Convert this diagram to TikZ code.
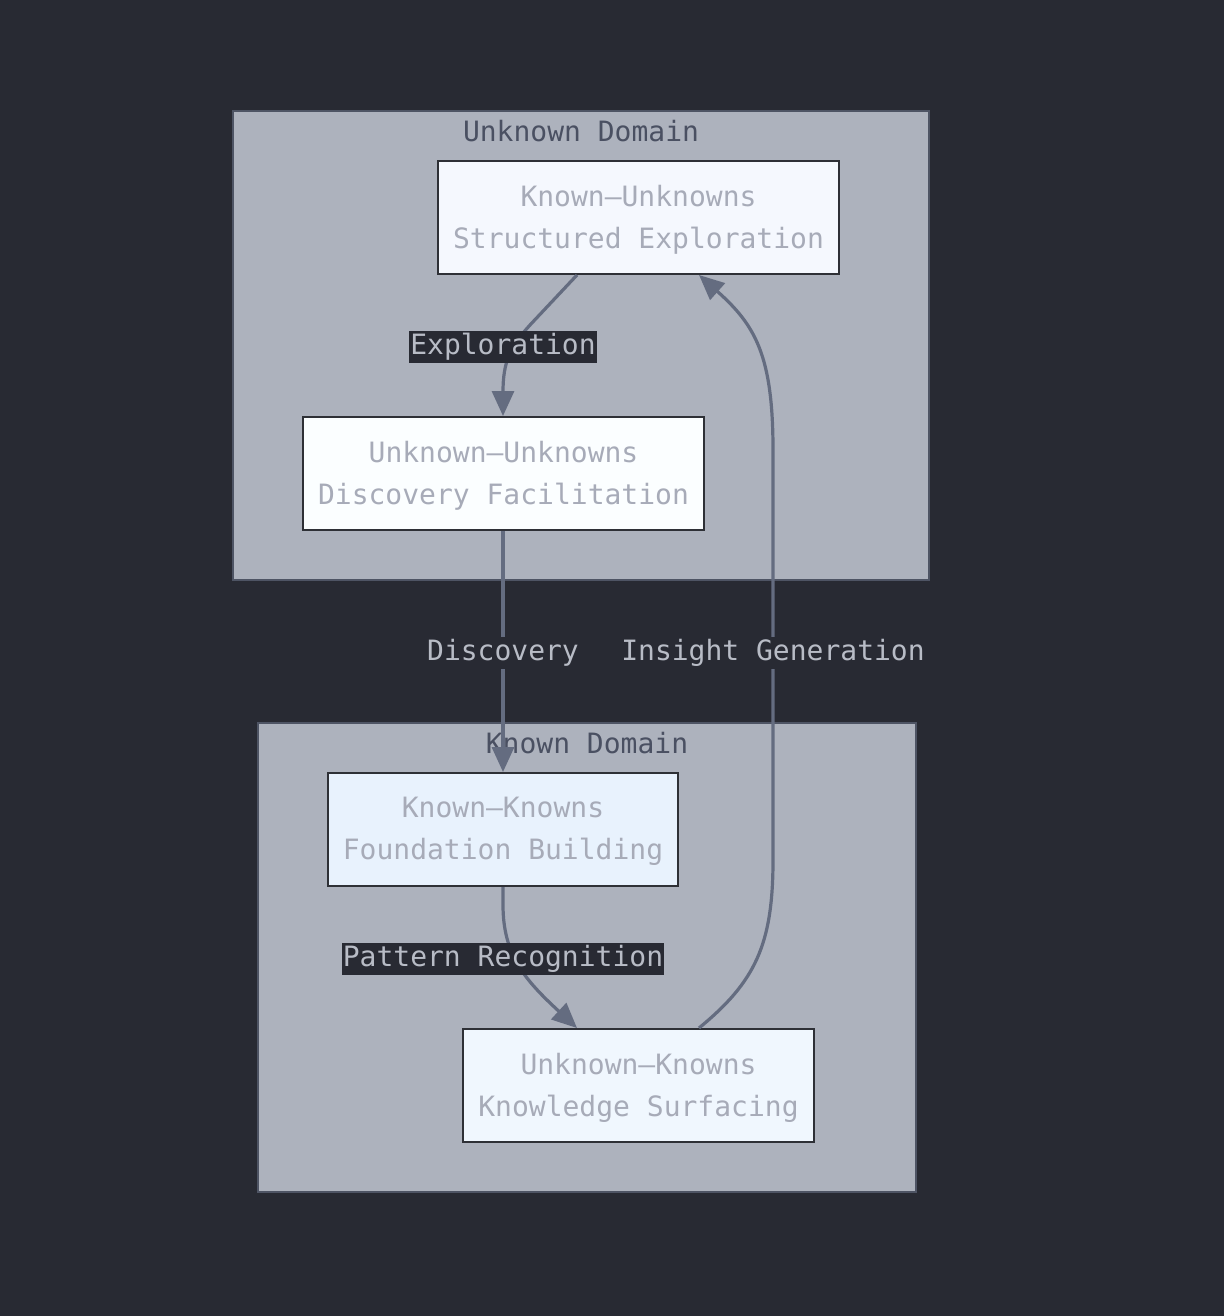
\documentclass[tikz,border=0pt]{standalone}
\usepackage{fontspec}
\setmonofont{DejaVu Sans Mono}
\usetikzlibrary{arrows.meta,calc}
\definecolor{bgc}{HTML}{282A33}
\definecolor{clusterfill}{HTML}{ADB2BD}
\definecolor{clusterline}{HTML}{4E5464}
\definecolor{clustertext}{HTML}{4A5062}
\definecolor{nodetext}{HTML}{A7ABB8}
\definecolor{nodeline}{HTML}{2E3036}
\definecolor{edgec}{HTML}{646C80}
\definecolor{labeltext}{HTML}{B8BCC6}
\definecolor{fillA}{HTML}{F5F8FE}
\definecolor{fillB}{HTML}{FBFEFF}
\definecolor{fillC}{HTML}{E8F2FD}
\definecolor{fillD}{HTML}{F0F7FE}
\newcommand{\dn}[1]{\raisebox{-2pt}[\height][\depth]{#1}}
\tikzset{
  txt/.style={font=\ttfamily\fontsize{28}{42}\selectfont},
  box/.style={txt, draw=nodeline, line width=2pt, text=nodetext, align=center,
    minimum height=113pt, inner sep=0pt},
  cluster/.style={fill=clusterfill, draw=clusterline, line width=2pt},
  clabel/.style={txt, text=clustertext, inner sep=0pt},
  edge/.style={draw=edgec, line width=3.2pt, -{Triangle[length=25pt,width=22pt]}},
  elabel/.style={txt, text=labeltext, fill=bgc, inner sep=1pt, minimum height=32pt}
}
\begin{document}
\begin{tikzpicture}[x=1pt,y=-1pt]
\fill[bgc] (0,0) rectangle (1224,1316);
\useasboundingbox (0,0) rectangle (1224,1316);
% clusters
\draw[cluster] (233,111) rectangle (929,580);
\node[clabel] (ulab) at (581,131) {Unknown Domain};
\draw[cluster] (258,723) rectangle (916,1192);
\node[clabel] (klab) at (587,743) {Known Domain};
% nodes
\node[box, fill=fillA, minimum width=401pt] (KU) at (638.5,217.5) {\dn{Known–Unknowns}\\\dn{Structured Exploration}};
\node[box, fill=fillB, minimum width=401pt] (UU) at (503.5,473.5) {\dn{Unknown–Unknowns}\\\dn{Discovery Facilitation}};
\node[box, fill=fillC, minimum width=350pt] (KK) at (503,829.5) {\dn{Known–Knowns}\\\dn{Foundation Building}};
\node[box, fill=fillD, minimum width=351pt] (UK) at (638.5,1085.5) {\dn{Unknown–Knowns}\\\dn{Knowledge Surfacing}};
% edges
\draw[edge] ([xshift=-61.5pt]KU.south) -- (530,325) .. controls (510,347) and (503,362) .. (503,392) -- ([xshift=-0.5pt]UU.north);
\draw[edge] ([xshift=-0.5pt]UU.south) -- (KK.north);
\draw[edge] (KK.south) -- (503,905) .. controls (503,955) and (525,980) .. ([xshift=-61.5pt]UK.north);
\draw[edge] ([xshift=60.5pt]UK.north) .. controls (755,982) and (773,945) .. (773,860) -- (773,450) .. controls (773,355) and (755,325) .. ([xshift=60.5pt]KU.south);
% labels
\node[elabel] (l1) at (503,347) {Exploration};
\node[elabel] (l2) at (503,653) {Discovery};
\node[elabel] (l3) at (503,959) {Pattern Recognition};
\node[elabel] (l4) at (773,653) {Insight Generation};
\end{tikzpicture}
\end{document}
